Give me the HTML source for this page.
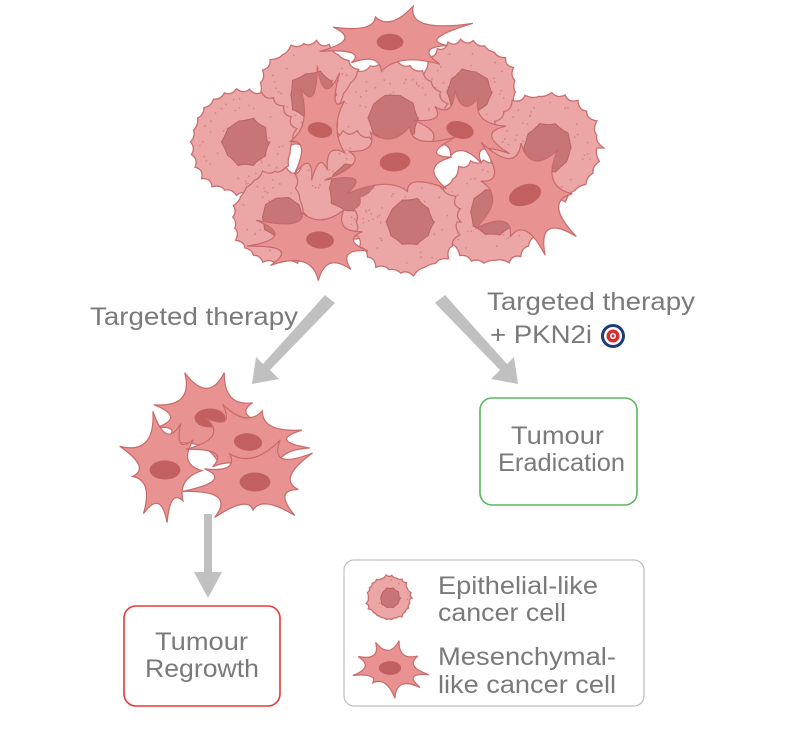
<!DOCTYPE html>
<html><head><meta charset="utf-8"><style>
html,body{margin:0;padding:0;background:#fff;}
svg{display:block;}
text{font-family:"Liberation Sans",sans-serif;fill:#7a7a7a;}
</style></head><body>
<svg id="s" width="790" height="740" viewBox="0 0 790 740" xmlns="http://www.w3.org/2000/svg">
<g id="cluster"></g>
<g id="small"></g>
<g fill="#c0c0c0">
<polygon points="325,295 335,303 270,370 279,379 252,384 256,357 263,364"/>
<polygon points="445,295 435,303 500,370 491,379 518,384 514,357 507,364"/>
<polygon points="204,514 212,514 212,572 222,572 208,598 194,572 204,572"/>
</g>
<text x="90" y="325" font-size="25" textLength="208" lengthAdjust="spacingAndGlyphs">Targeted therapy</text>
<text x="487" y="310" font-size="25" textLength="208" lengthAdjust="spacingAndGlyphs">Targeted therapy</text>
<text x="490" y="343" font-size="25" textLength="102" lengthAdjust="spacingAndGlyphs">+ PKN2i</text>
<circle cx="613" cy="336" r="12" fill="#1f3a78"/>
<circle cx="613" cy="336" r="9" fill="#fff"/>
<circle cx="613" cy="336" r="6.5" fill="#d32f2f"/>
<circle cx="613" cy="336" r="3" fill="#fff"/>
<circle cx="613" cy="336" r="1.5" fill="#d32f2f"/>
<rect x="480" y="398" width="157" height="107" rx="12" fill="none" stroke="#5cb85c" stroke-width="1.6"/>
<text x="511" y="444" font-size="25" textLength="93" lengthAdjust="spacingAndGlyphs">Tumour</text>
<text x="498" y="471" font-size="25" textLength="127" lengthAdjust="spacingAndGlyphs">Eradication</text>
<rect x="124" y="606" width="156" height="100" rx="12" fill="none" stroke="#e53935" stroke-width="1.6"/>
<text x="155" y="650" font-size="25" textLength="93" lengthAdjust="spacingAndGlyphs">Tumour</text>
<text x="145" y="677" font-size="25" textLength="114" lengthAdjust="spacingAndGlyphs">Regrowth</text>
<rect x="344" y="560" width="300" height="146" rx="10" fill="none" stroke="#bdbdbd" stroke-width="1.2"/>
<g id="legend"></g>
<text x="438" y="594" font-size="25" textLength="160" lengthAdjust="spacingAndGlyphs">Epithelial-like</text>
<text x="438" y="621" font-size="25" textLength="128" lengthAdjust="spacingAndGlyphs">cancer cell</text>
<text x="438" y="665" font-size="25" textLength="178" lengthAdjust="spacingAndGlyphs">Mesenchymal-</text>
<text x="438" y="693" font-size="25" textLength="178" lengthAdjust="spacingAndGlyphs">like cancer cell</text>
</svg>
<script>
var NS="http://www.w3.org/2000/svg";
var seed=7;function rnd(){seed=(seed*16807)%2147483647;return (seed-1)/2147483646;}
function el(g,tag,a){var e=document.createElementNS(NS,tag);for(var k in a)e.setAttribute(k,a[k]);g.appendChild(e);return e;}
function blob(cx,cy,r,n,amp){var d="";for(var i=0;i<=n;i++){var t=i/n*Math.PI*2;var rr=r*(1+amp*(rnd()-0.5));var x=cx+rr*Math.cos(t),y=cy+rr*Math.sin(t);
 if(i==0)d+="M"+x.toFixed(1)+","+y.toFixed(1);else{var tm=(i-0.5)/n*Math.PI*2;var rm=r*(1-amp*0.6);d+="Q"+(cx+rm*Math.cos(tm)).toFixed(1)+","+(cy+rm*Math.sin(tm)).toFixed(1)+" "+x.toFixed(1)+","+y.toFixed(1);}}
 return d+"Z";}
function epi(g,cx,cy,r){
 el(g,"path",{d:blob(cx,cy,r,26,0.14),fill:"#eca6a6",stroke:"#c96f6f","stroke-width":1.3});
 for(var i=0;i<Math.round(r*r/60);i++){var a=rnd()*6.28,q=Math.sqrt(rnd())*r*0.85;el(g,"circle",{cx:cx+q*Math.cos(a),cy:cy+q*Math.sin(a),r:0.9,fill:"#d48585"});}
 el(g,"path",{d:blob(cx+r*0.05,cy,r*0.45,10,0.15),fill:"#c87575",stroke:"#b86464","stroke-width":1});
}
function mes(g,cx,cy,sx,sy,rot,sc){
 var n=9,d="",pts=[];
 for(var i=0;i<n;i++){var t=i/n*Math.PI*2+rnd()*0.3;var L=(0.8+rnd()*0.6);pts.push([t,L]);}
 for(var i=0;i<n;i++){var t=pts[i][0],L=pts[i][1];var x=cx+sx*L*Math.cos(t),y=cy+sy*L*Math.sin(t);
  var t2=i+1<n?pts[i+1][0]:pts[0][0]+Math.PI*2;var tm=(t+t2)/2;var xm=cx+sx*0.4*Math.cos(tm),ym=cy+sy*0.4*Math.sin(tm);
  var x2=cx+sx*pts[(i+1)%n][1]*Math.cos(t2),y2=cy+sy*pts[(i+1)%n][1]*Math.sin(t2);
  if(i==0)d+="M"+x.toFixed(1)+","+y.toFixed(1);
  d+="Q"+xm.toFixed(1)+","+ym.toFixed(1)+" "+x2.toFixed(1)+","+y2.toFixed(1);}
 var gg=el(g,"g",{transform:"rotate("+rot+" "+cx+" "+cy+")"});
 el(gg,"path",{d:d+"Z",fill:"#e89292",stroke:"#c96a6a","stroke-width":1.2});
 var r=Math.min(sx,sy)*0.28*sc+4;
 el(gg,"ellipse",{cx:cx,cy:cy,rx:r*1.3,ry:r*0.8,fill:"#c26060"});
}
var c=document.getElementById("cluster");
[[310,95,52],[467,92,50],[243,142,52],[390,118,56],[545,148,55],[280,217,47],[490,212,52],[350,188,55],[407,222,52]].forEach(function(a){epi(c,a[0],a[1],a[2]);});
mes(c,390,42,70,28,0,0.8);mes(c,320,130,22,55,10,0.9);mes(c,460,130,40,30,15,0.8);
mes(c,395,162,65,35,-5,0.8);mes(c,320,240,55,30,5,0.8);mes(c,525,195,45,55,-20,0.7);
var s=document.getElementById("small");
mes(s,210,418,60,35,0,0.8);mes(s,165,470,35,50,0,0.8);mes(s,248,442,50,35,5,0.7);mes(s,255,482,55,35,0,0.8);
var l=document.getElementById("legend");
epi(l,389,598,22);mes(l,390,668,38,22,0,0.75);
</script>
</body></html>
